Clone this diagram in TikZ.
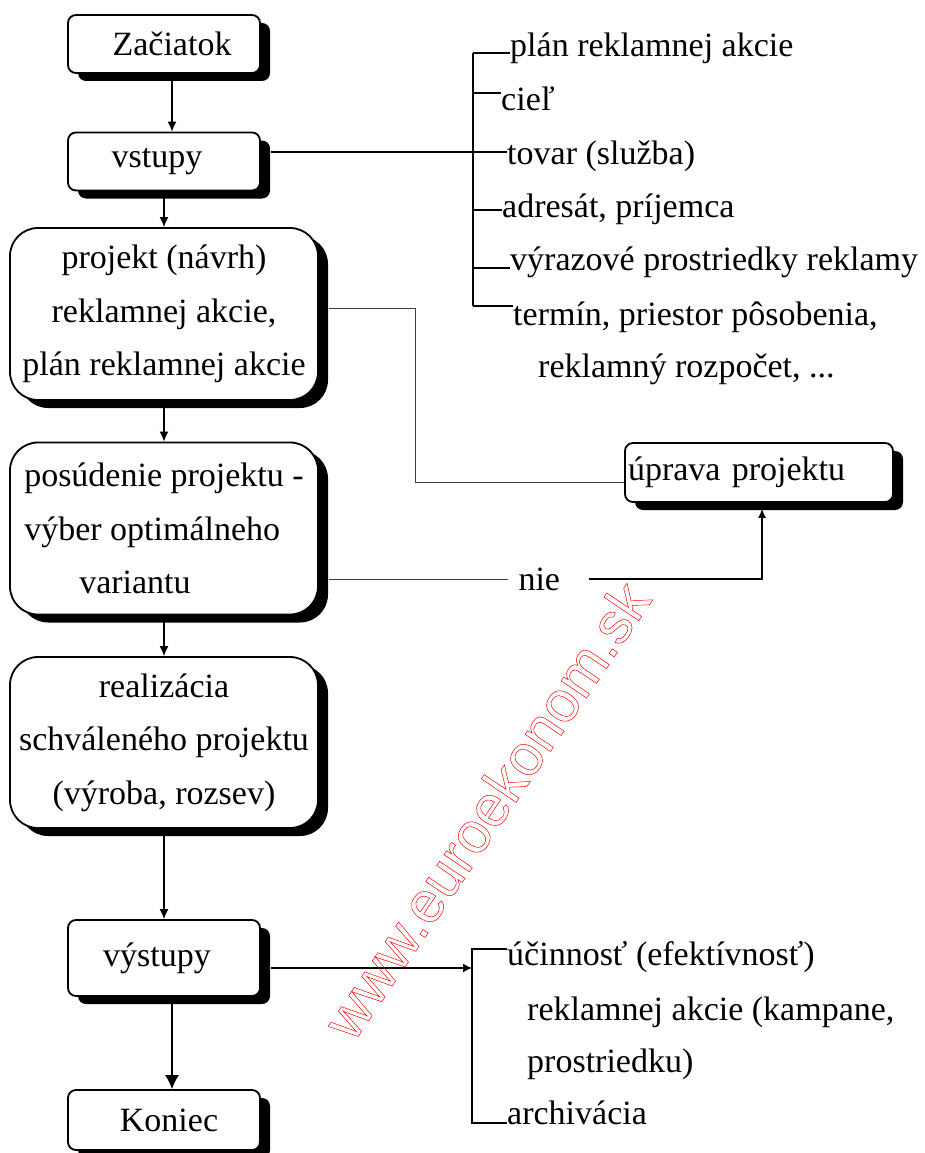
\documentclass[tikz,border=0pt]{standalone}
\usepackage{fontspec}
\setmainfont{Liberation Serif}
\newfontfamily\wmfont{Liberation Sans}
\usetikzlibrary{shadows,arrows.meta}

\begin{document}
\begin{tikzpicture}[x=1pt,y=-1pt]

\tikzset{txt/.style={font=\fontsize{34}{53.5}\selectfont}};
\tikzset{box/.style={txt, draw, line width=1.8pt, fill=white, rounded corners=8pt,
  minimum width=192pt, minimum height=58pt, inner sep=0pt,
  drop shadow={shadow xshift=10pt, shadow yshift=-8pt, fill=black, opacity=1}}};
\tikzset{bigbox/.style={box, rounded corners=28pt, minimum width=308pt, minimum height=172pt, align=center}};
\tikzset{item/.style={txt, anchor=base west, inner sep=0pt}};
\tikzset{edge/.style={line width=1.3pt, -{Latex[length=10pt,width=9pt]}}};
\tikzset{thinline/.style={line width=0.9pt, black!75}};
\tikzset{brline/.style={line width=1.5pt}};

\useasboundingbox (0,0) rectangle (924,1153);

% main column
\node[box] (start) at (164,44) {\hspace*{16pt}Začiatok};
\node[box] (vstupy) at (164,161.5) {vstupy\hspace*{14pt}};
\node[bigbox] (projekt) at (164,314) {projekt (návrh)\\reklamnej akcie,\\plán reklamnej akcie};
\node[bigbox, align=left] (posudenie) at (164,528.5) {posúdenie projektu -\\výber optimálneho\\\hspace*{55pt}variantu};
\node[bigbox, minimum height=171pt] (realizacia) at (164,742.5) {realizácia\\schváleného projektu\\(výroba, rozsev)};
\node[box, minimum height=76pt] (vystupy) at (164,958) {výstupy\hspace*{14pt}};
\node[box, minimum height=60pt] (koniec) at (164,1120) {\hspace*{10pt}Koniec};

\node[box, minimum width=268pt, minimum height=59pt, text width=262pt, inner xsep=3pt, align=left] (uprava) at (759,472.5) {úprava projektu};

\draw[edge] ([xshift=8pt]start.south) -- ([xshift=8pt]vstupy.north);
\draw[edge] (vstupy.south) -- (projekt.north);
\draw[edge] (projekt.south) -- (posudenie.north);
\draw[edge] (posudenie.south) -- (realizacia.north);
\draw[edge] (realizacia.south) -- (vystupy.north);
\draw[line width=1.3pt, -{Latex[length=14pt,width=14pt]}] ([xshift=8pt]vystupy.south) -- ([xshift=8pt]koniec.north);

% loop back
\node[txt, text width=60pt, inner xsep=10pt, inner ysep=0pt, align=left] (nie) at (548.5,579) {nie};
\draw[thinline] ([xshift=10pt,yshift=6pt]projekt.east) -- ++(87,0) |- ([yshift=-10pt]uprava.west);
\draw[thinline] ([xshift=10pt,yshift=-50.5pt]posudenie.east) -- (nie.west);
\draw[thinline, line width=1.2pt, black, -{Latex[length=9pt,width=8pt]}] (nie.east) -| ([xshift=3pt,yshift=-6pt]uprava.south);

% inputs list
\node[item] (plan) at (510,57) {plán reklamnej akcie};
\node[item] (ciel) at (501,111) {cieľ};
\node[item] (tovar) at (507,164) {tovar (služba)};
\node[item] (adresat) at (502,217) {adresát, príjemca};
\node[item] (vyraz) at (510,270) {výrazové prostriedky reklamy};
\node[item] (termin) at (513,325) {termín, priestor pôsobenia,};
\node[item] (rozpocet) at (538,377) {reklamný rozpočet, ...};

\coordinate (t1) at (473,53);
\coordinate (t2) at (473,93);
\coordinate (t4) at (473,210);
\coordinate (t5) at (473,268);
\coordinate (t6) at (473,306);
\draw[brline] (t1) -- (t6);
\draw[brline] (t1) -- (t1 -| plan.west);
\draw[brline] (t2) -- (t2 -| ciel.west);
\draw[brline] (t4) -- (t4 -| adresat.west);
\draw[brline] (t5) -- (t5 -| vyraz.west);
\draw[brline] (t6) -- (t6 -| termin.west);
\draw[line width=1.2pt] ([xshift=10pt,yshift=9.5pt]vstupy.east) -- (tovar.west |- 0,152);

% outputs list
\node[item] (ucinnost) at (507,965) {účinnosť (efektívnosť)};
\node[item] (kampan) at (527,1020) {reklamnej akcie (kampane,};
\node[item] (prostr) at (527,1072) {prostriedku)};
\node[item] (archiv) at (507,1124) {archivácia};

\coordinate (u1) at (472,949);
\coordinate (ua) at (472,968);
\coordinate (u2) at (472,1123);
\draw[brline] (ucinnost.west |- u1) -- (u1) -- (u2) -- (archiv.west |- u2);
\draw[line width=1.3pt, -{Latex[length=9pt,width=9pt]}] ([xshift=10pt,yshift=-10pt]vystupy.east) -- (ua);

% watermark
\node[rotate=56, text=red, font=\wmfont\fontsize{58}{58}\selectfont, inner sep=0pt] (wmark) at (486,810)
  {\special{pdf:literal direct 1 Tr 0.5 w}www.euroekonom.sk\special{pdf:literal direct 0 Tr}};

\end{tikzpicture}
\end{document}
